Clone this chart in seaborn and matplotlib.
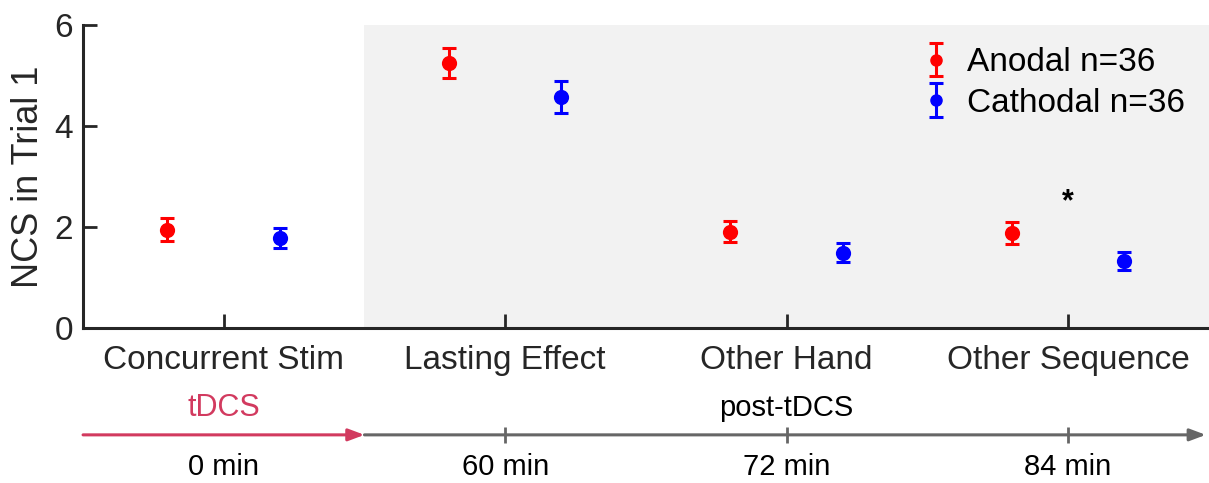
import matplotlib
matplotlib.use("Agg")
import matplotlib.pyplot as plt
import seaborn as sns
import numpy as np
import pandas as pd
from matplotlib.legend_handler import HandlerTuple

# ---- data ----
conditions = ["Concurrent Stim", "Lasting Effect", "Other Hand", "Other Sequence"]
times = ["0 min", "60 min", "72 min", "84 min"]
groups = ["Anodal n=36", "Cathodal n=36"]
anodal_mean = [1.95, 5.25, 1.91, 1.88]
anodal_sem = [0.22, 0.30, 0.20, 0.22]
cathodal_mean = [1.79, 4.58, 1.49, 1.32]
cathodal_sem = [0.20, 0.32, 0.19, 0.18]
star_condition = "Other Sequence"
star_value = 2.5

colors = {"Anodal n=36": "#ff0000", "Cathodal n=36": "#0000ff"}
offsets = {"Anodal n=36": -0.2, "Cathodal n=36": 0.2}

rows = []
for g, means, sems in [(groups[0], anodal_mean, anodal_sem), (groups[1], cathodal_mean, cathodal_sem)]:
    for i, c in enumerate(conditions):
        rows.append({"cond": c, "idx": i, "group": g, "mean": means[i], "sem": sems[i]})
df = pd.DataFrame(rows)
df["x"] = df["idx"] + df["group"].map(offsets)

sns.set_theme(style="ticks")
plt.rcParams["font.family"] = ["Liberation Sans", "DejaVu Sans"]

fig = plt.figure(figsize=(12.09, 4.83), dpi=100)
ax = fig.add_axes([0.0687, 0.321, 0.931, 0.627])

ax.axvspan(0.5, 3.5, ymin=0, ymax=1, color="#f2f2f2", zorder=0, lw=0)

handles = []
for g in groups:
    sub = df[df["group"] == g]
    eb = ax.errorbar(sub["x"], sub["mean"], yerr=sub["sem"], fmt="none",
                     ecolor=colors[g], elinewidth=2.2, capsize=5, capthick=2.2, zorder=3)
    sns.scatterplot(data=sub, x="x", y="mean", color=colors[g], s=120,
                    edgecolor=colors[g], linewidth=0, ax=ax, legend=False, zorder=4)
    mk, = ax.plot([], [], "o", color=colors[g], markersize=8)
    handles.append((eb, mk))

ax.text(conditions.index(star_condition), star_value, "*", ha="center", va="center",
        fontsize=22, fontweight="bold", color="black")

ax.set_xlim(-0.5, 3.5)
ax.set_ylim(0, 6)
ax.set_xticks(range(len(conditions)))
ax.set_xticklabels(conditions)
ax.set_yticks([0, 2, 4, 6])
ax.set_xlabel("")
ax.set_ylabel("NCS in Trial 1", fontsize=26, labelpad=6)
ax.tick_params(axis="both", direction="in", length=10, width=2, colors="#262626",
               labelsize=24, labelcolor="#262626")
ax.tick_params(axis="x", pad=12)
ax.tick_params(axis="y", pad=7)
for s in ["top", "right"]:
    ax.spines[s].set_visible(False)
for s in ["left", "bottom"]:
    ax.spines[s].set_linewidth(2.2)
    ax.spines[s].set_color("#262626")
ax.yaxis.label.set_color("#262626")

leg = ax.legend(handles, groups, handler_map={tuple: HandlerTuple(ndivide=1)},
                loc="upper left", bbox_to_anchor=(0.722, 1.004), frameon=False,
                fontsize=24, handlelength=1.0, handletextpad=0.45, labelspacing=0.28,
                borderaxespad=0.3)
for t in leg.get_texts():
    t.set_color("black")

# ---- timeline below ----
tl_y = -0.353
tr = ax.get_xaxis_transform()
ax.annotate("", xy=(0.5, tl_y), xytext=(-0.5, tl_y), xycoords=tr, textcoords=tr,
            arrowprops=dict(arrowstyle="-|>,head_length=0.8,head_width=0.3",
                            color="#d23a5f", lw=2.2, shrinkA=0, shrinkB=0), annotation_clip=False)
ax.annotate("", xy=(3.49, tl_y), xytext=(0.5, tl_y), xycoords=tr, textcoords=tr,
            arrowprops=dict(arrowstyle="-|>,head_length=0.8,head_width=0.3",
                            color="#666666", lw=2.2, shrinkA=0, shrinkB=0), annotation_clip=False)
for i in range(1, len(times)):
    ax.plot([i, i], [tl_y - 0.027, tl_y + 0.027], transform=tr, color="#666666",
            lw=2, clip_on=False, solid_capstyle="butt")
for i, t in enumerate(times):
    ax.text(i, -0.459, t, transform=tr, ha="center", va="center", fontsize=21, color="black")
ax.text(0, -0.264, "tDCS", transform=tr, ha="center", va="center", fontsize=22, color="#d23a5f")
ax.text(2, -0.264, "post-tDCS", transform=tr, ha="center", va="center", fontsize=21, color="black")

fig.savefig("out.png", dpi=100)
